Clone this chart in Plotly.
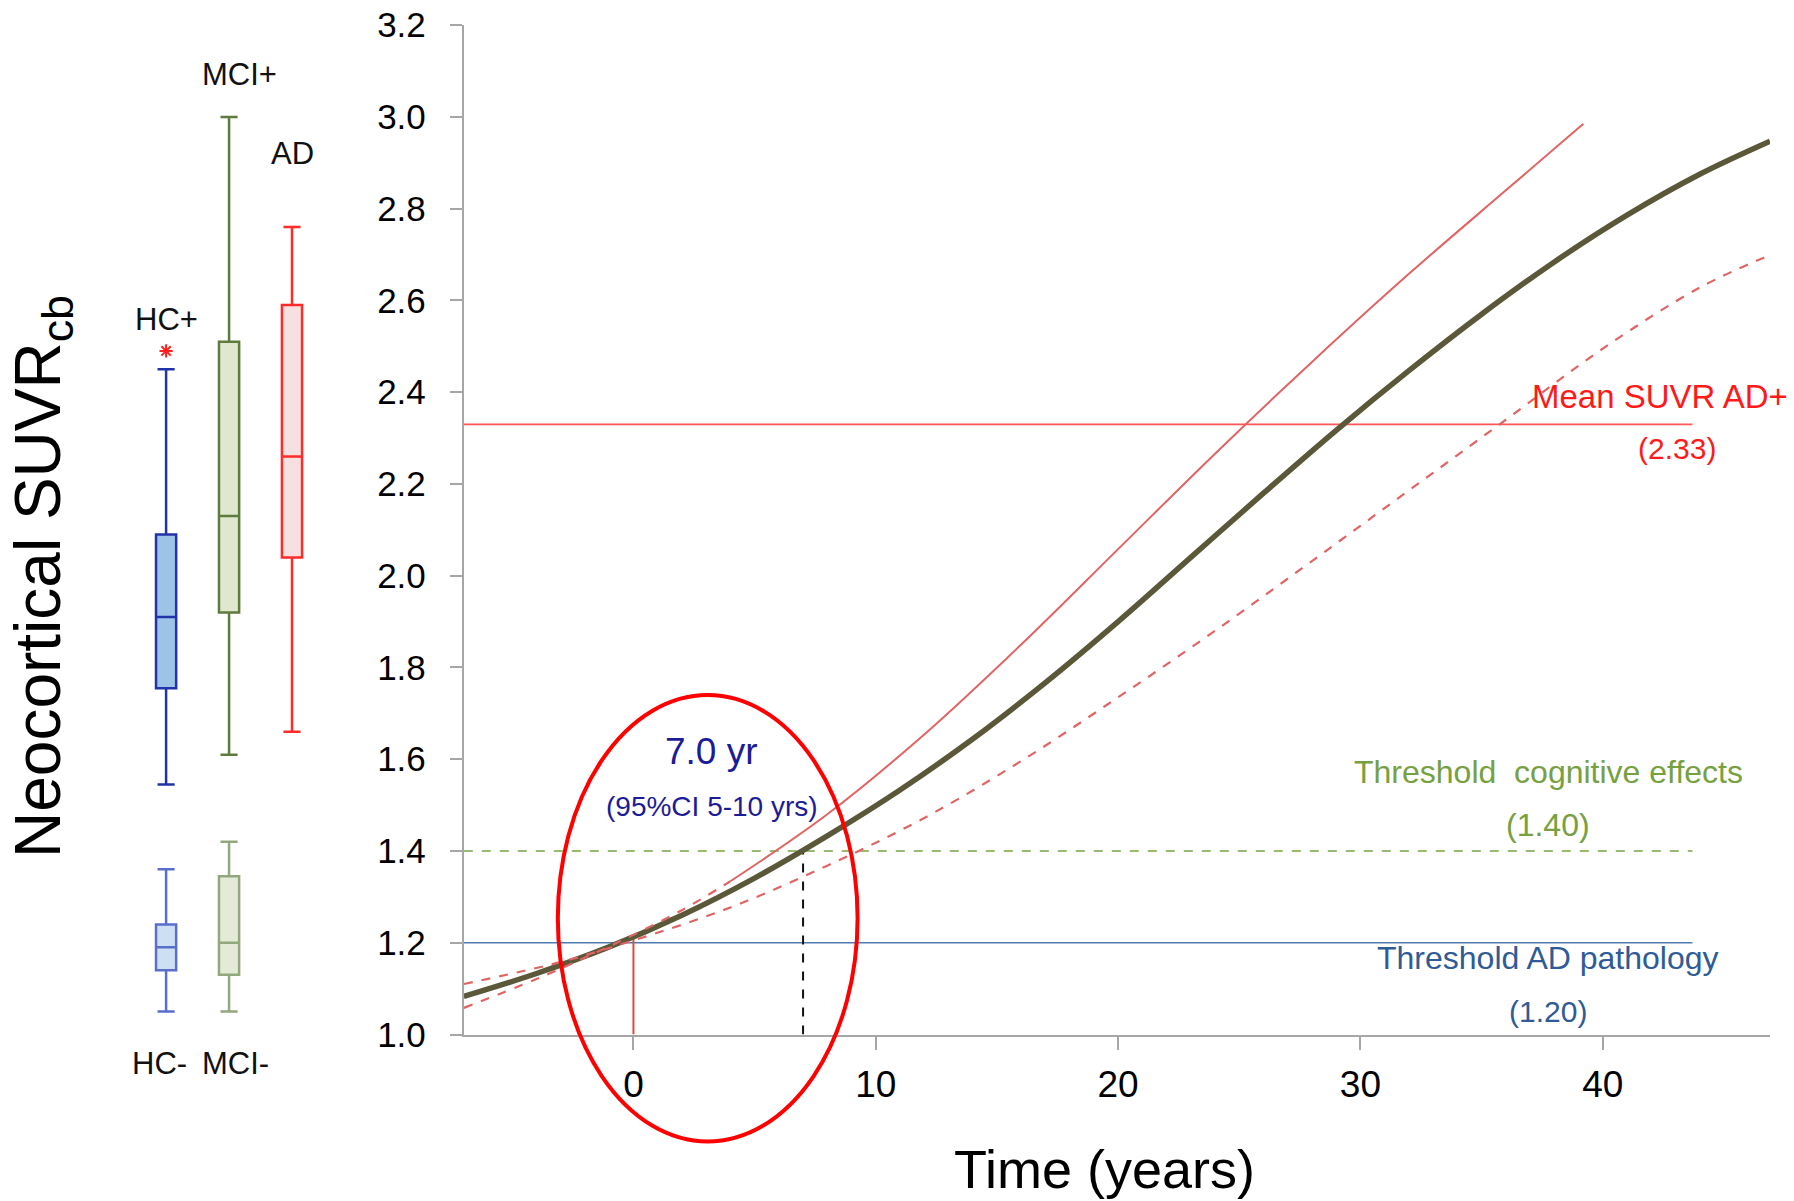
import plotly.graph_objects as go

# ---- Box plot groups (Neocortical SUVR) ----
box_names = ["HC-", "MCI-", "HC+", "MCI+", "AD"]
box_pos = [0, 1, 0, 1, 2]
box_low = [1.05, 1.05, 1.545, 1.61, 1.66]
box_q1 = [1.14, 1.13, 1.755, 1.92, 2.04]
box_med = [1.19, 1.20, 1.91, 2.13, 2.26]
box_q3 = [1.24, 1.345, 2.09, 2.51, 2.59]
box_high = [1.36, 1.42, 2.45, 3.00, 2.76]
box_fill = ["#cddff2", "#e3ebd6", "#9dc3e6", "#dfe8cf", "#f8e0e0"]
box_line = ["#5a6fcc", "#93a77e", "#2133a8", "#5e7a3c", "#ff2a2a"]
hc_outlier = 2.49

# ---- Modelled SUVR trajectory over time ----
t_mean = [-7, -4, -1, 2, 5, 8, 11, 14, 17, 20, 23, 26, 29, 32, 35, 38, 41, 44, 46.9]
v_mean = [1.083, 1.133, 1.191, 1.260, 1.341, 1.433, 1.533, 1.644, 1.767, 1.900, 2.040,
          2.180, 2.317, 2.447, 2.570, 2.684, 2.786, 2.875, 2.947]

# upper 95% CI (dashed early section, solid afterwards)
t_up_a = [-7, -4, -1, 2, 4]
v_up_a = [1.058, 1.121, 1.192, 1.271, 1.334]
t_up_b = [4, 8, 12, 16, 20, 24, 28, 32, 36, 39.2]
v_up_b = [1.334, 1.480, 1.654, 1.850, 2.058, 2.266, 2.466, 2.658, 2.840, 2.985]

# lower 95% CI
t_lo = [-7, -3, 0, 4, 8, 12, 16, 20, 24, 28, 32, 36, 40, 44, 46.94]
v_lo = [1.110, 1.158, 1.205, 1.277, 1.368, 1.472, 1.596, 1.735, 1.880, 2.032, 2.186,
        2.340, 2.495, 2.628, 2.700]

# reference levels
t_ref = [-7, 43.7]
mean_ad = 2.33
thr_cog = 1.40
thr_path = 1.20
t_onset = 0.0
v_onset = 1.212
t_cross = 7.0

FONT = "Liberation Sans, Arial, sans-serif"
X_RANGE = [-7, 46.9]
Y_RANGE = [1.0, 3.2]
X_DOM = [463.8 / 1794, 1770 / 1794]
Y_DOM = [(1201 - 1034.5) / 1201, (1201 - 25.2) / 1201]
X2_DOM = [100 / 1794, 360 / 1794]

fig = go.Figure()

# box plots
for i, name in enumerate(box_names):
    fig.add_trace(go.Box(
        x=[box_pos[i]], q1=[box_q1[i]], median=[box_med[i]], q3=[box_q3[i]],
        lowerfence=[box_low[i]], upperfence=[box_high[i]], orientation="v",
        width=0.32, whiskerwidth=0.85, fillcolor=box_fill[i],
        line=dict(color=box_line[i], width=2.5), boxpoints=False,
        name=name, xaxis="x2", yaxis="y2", showlegend=False, hoverinfo="skip"))

fig.add_trace(go.Scatter(
    x=[0], y=[hc_outlier], mode="markers", xaxis="x2", yaxis="y2",
    marker=dict(symbol="asterisk-open", size=11, color="#ff2020",
                line=dict(color="#ff2020", width=2)),
    showlegend=False, hoverinfo="skip"))

# horizontal reference lines
fig.add_trace(go.Scatter(x=t_ref, y=[mean_ad] * 2, mode="lines",
                         line=dict(color="#ff5555", width=1.6), showlegend=False))
fig.add_trace(go.Scatter(x=t_ref, y=[thr_cog] * 2, mode="lines",
                         line=dict(color="#7aa244", width=1.6, dash="dash"), showlegend=False))
fig.add_trace(go.Scatter(x=t_ref, y=[thr_path] * 2, mode="lines",
                         line=dict(color="#4f7db3", width=1.6), showlegend=False))

# drop lines to the time axis
fig.add_trace(go.Scatter(x=[t_onset, t_onset], y=[1.0, v_onset], mode="lines",
                         line=dict(color="#d4503f", width=2), showlegend=False))
fig.add_trace(go.Scatter(x=[t_cross, t_cross], y=[1.0, thr_cog], mode="lines",
                         line=dict(color="#111111", width=2, dash="dash"), showlegend=False))

# mean trajectory and its confidence band
fig.add_trace(go.Scatter(x=t_mean, y=v_mean, mode="lines", line_shape="spline",
                         line=dict(color="#5b5739", width=5.5), showlegend=False))
fig.add_trace(go.Scatter(x=t_up_a, y=v_up_a, mode="lines", line_shape="spline",
                         line=dict(color="#e06464", width=2.2, dash="dash"), showlegend=False))
fig.add_trace(go.Scatter(x=t_up_b, y=v_up_b, mode="lines", line_shape="spline",
                         line=dict(color="#e06464", width=2), showlegend=False))
fig.add_trace(go.Scatter(x=t_lo, y=v_lo, mode="lines", line_shape="spline",
                         line=dict(color="#e06464", width=2.2, dash="dash"), showlegend=False))


def xd(t):
    return (t - X_RANGE[0]) / (X_RANGE[1] - X_RANGE[0])


def yd(v):
    return (v - Y_RANGE[0]) / (Y_RANGE[1] - Y_RANGE[0])


# highlight ellipse around the onset window
ell_t = [-3.12, 9.25]
ell_v = [0.767, 1.740]
fig.add_shape(type="circle", xref="x domain", yref="y domain",
              x0=xd(ell_t[0]), x1=xd(ell_t[1]), y0=yd(ell_v[0]), y1=yd(ell_v[1]),
              line=dict(color="#ff0000", width=4))

ann = []


def text(x, y, s, size, color, xref="x", yref="y", angle=0):
    ann.append(dict(x=x, y=y, text=s, xref=xref, yref=yref, showarrow=False,
                    textangle=angle, xanchor="center", yanchor="middle",
                    font=dict(family=FONT, size=size, color=color)))


text(42.35, 2.39, "Mean SUVR AD+", 33, "#ff1a1a")
text(43.08, 2.277, "(2.33)", 30, "#ff1a1a")
text(37.74, 1.5725, "Threshold  cognitive effects", 32, "#77a040")
text(37.74, 1.456, "(1.40)", 32, "#77a040")
text(37.74, 1.166, "Threshold AD pathology", 32, "#2f5b96")
text(37.74, 1.050, "(1.20)", 30, "#2f5b96")
text(3.24, 1.616, "7.0 yr", 37, "#1c1c96")
text(3.24, 1.496, "(95%CI 5-10 yrs)", 28, "#1c1c96")

# group labels for the box plots
text(1.16, 3.093, "MCI+", 31, "#111111", xref="x2", yref="y2")
text(2.0, 2.92, "AD", 31, "#111111", xref="x2", yref="y2")
text(0.0, 2.559, "HC+", 31, "#111111", xref="x2", yref="y2")
text(-0.11, (1201 - 1063) / 1201, "HC-", 31, "#111111", xref="x2", yref="paper")
text(1.10, (1201 - 1063) / 1201, "MCI-", 31, "#111111", xref="x2", yref="paper")

# axis titles
text(42 / 1794, (1201 - 577) / 1201, "Neocortical SUVR<sub>cb</sub>", 64, "#000000",
     xref="paper", yref="paper", angle=-90)
text(1104 / 1794, (1201 - 1169) / 1201, "Time (years)", 54, "#000000",
     xref="paper", yref="paper")

axis_common = dict(showline=True, linecolor="#a6a6a6", linewidth=2, ticks="outside",
                   tickcolor="#a6a6a6", tickwidth=2, showgrid=False, zeroline=False,
                   automargin=False)

fig.update_layout(
    width=1794, height=1201, margin=dict(l=0, r=0, t=0, b=0, autoexpand=False),
    paper_bgcolor="white", plot_bgcolor="white", showlegend=False,
    annotations=ann,
    xaxis=dict(domain=X_DOM, range=X_RANGE, tickmode="linear", tick0=0, dtick=10,
               ticklen=13, ticklabelstandoff=3, anchor="y",
               tickfont=dict(family=FONT, size=37, color="#000000"), **axis_common),
    yaxis=dict(domain=Y_DOM, range=Y_RANGE, tickmode="linear", tick0=1.0, dtick=0.2,
               tickformat=".1f", ticklen=12, ticklabelstandoff=17, anchor="x",
               tickfont=dict(family=FONT, size=35, color="#000000"), **axis_common),
    xaxis2=dict(domain=X2_DOM, range=[-1.05, 3.08], visible=False, anchor="y2",
                automargin=False),
    yaxis2=dict(domain=Y_DOM, range=Y_RANGE, visible=False, anchor="x2", automargin=False),
)

fig.write_html("out.html")
